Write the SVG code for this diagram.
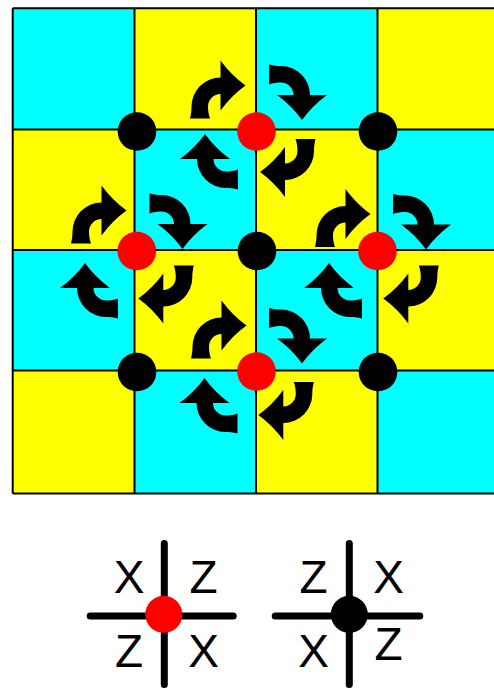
<svg xmlns="http://www.w3.org/2000/svg" xmlns:xlink="http://www.w3.org/1999/xlink" width="494" height="692" viewBox="0 0 494 692">
  <style>
    .c { fill: #00FFFF; }
    .y { fill: #FFFF00; }
    .gl { stroke: #000; stroke-width: 2; fill: none; }
    .red { fill: #FF0000; }
    .blk { fill: #000; }
    .leg { stroke: #000; stroke-width: 7; stroke-linecap: round; fill: none; }
    .lbl { font-family: "Liberation Sans", Arial, sans-serif; font-size: 46px; fill: #000; text-anchor: middle; }
  </style>
  <defs>
    <path id="arr" d="M -30.5,12 C -29.3,7 -29,4 -29,0 A 29 29 0 0 1 0,-29 L 0,-46 Q 11,-31 25,-21 Q 11,-11 0,4 L 0,-12.5 A 12.5 12.5 0 0 0 -12.5,0 C -12.5,4 -12,8 -10.5,12 Z" fill="#000"/>
  </defs>

  <g id="board">
    <rect class="c" x="12.7" y="8.3" width="121.8" height="121.2"/>
    <rect class="y" x="134.5" y="8.3" width="121.5" height="121.2"/>
    <rect class="c" x="256" y="8.3" width="121.5" height="121.2"/>
    <rect class="y" x="377.5" y="8.3" width="116.5" height="121.2"/>

    <rect class="y" x="12.7" y="129.5" width="121.8" height="120.5"/>
    <rect class="c" x="134.5" y="129.5" width="121.5" height="120.5"/>
    <rect class="y" x="256" y="129.5" width="121.5" height="120.5"/>
    <rect class="c" x="377.5" y="129.5" width="116.5" height="120.5"/>

    <rect class="c" x="12.7" y="250" width="121.8" height="120.5"/>
    <rect class="y" x="134.5" y="250" width="121.5" height="120.5"/>
    <rect class="c" x="256" y="250" width="121.5" height="120.5"/>
    <rect class="y" x="377.5" y="250" width="116.5" height="120.5"/>

    <rect class="y" x="12.7" y="370.5" width="121.8" height="123"/>
    <rect class="c" x="134.5" y="370.5" width="121.5" height="123"/>
    <rect class="y" x="256" y="370.5" width="121.5" height="123"/>
    <rect class="c" x="377.5" y="370.5" width="116.5" height="123"/>

    <path class="gl" d="M12.7,8.3 V493.5 M134.5,8.3 V493.5 M256,8.3 V493.5 M377.5,8.3 V493.5 M12.7,8.3 H494 M12.7,129.5 H494 M12.7,250 H494 M12.7,370.5 H494 M12.7,493.5 H494"/>
  </g>

  <g id="arrows">
    <use xlink:href="#arr" transform="translate(220.5,106.5) rotate(0)"/>
    <use xlink:href="#arr" transform="translate(281,95) rotate(90)"/>
    <use xlink:href="#arr" transform="translate(285,151) rotate(180)"/>
    <use xlink:href="#arr" transform="translate(226,159) rotate(270)"/>

    <use xlink:href="#arr" transform="translate(101.5,231.5) rotate(0)"/>
    <use xlink:href="#arr" transform="translate(161.5,224) rotate(90)"/>
    <use xlink:href="#arr" transform="translate(163.3,277.5) rotate(180)"/>
    <use xlink:href="#arr" transform="translate(106,288) rotate(270)"/>

    <use xlink:href="#arr" transform="translate(345.5,235) rotate(0)"/>
    <use xlink:href="#arr" transform="translate(405,224.5) rotate(90)"/>
    <use xlink:href="#arr" transform="translate(408.3,277.5) rotate(180)"/>
    <use xlink:href="#arr" transform="translate(350,288) rotate(270)"/>

    <use xlink:href="#arr" transform="translate(221.5,346.5) rotate(0)"/>
    <use xlink:href="#arr" transform="translate(281,338.5) rotate(90)"/>
    <use xlink:href="#arr" transform="translate(283.3,394) rotate(180)"/>
    <use xlink:href="#arr" transform="translate(225.5,403) rotate(270)"/>
  </g>

  <g id="vertices">
    <circle class="blk" cx="137" cy="131.5" r="19.3"/>
    <circle class="red" cx="256.5" cy="131.5" r="19.3"/>
    <circle class="blk" cx="378" cy="131.5" r="19.3"/>
    <circle class="red" cx="136.8" cy="251" r="19.3"/>
    <circle class="blk" cx="257" cy="251" r="19.3"/>
    <circle class="red" cx="377.5" cy="251" r="19.3"/>
    <circle class="blk" cx="137" cy="372" r="19.3"/>
    <circle class="red" cx="256.5" cy="371.5" r="19.3"/>
    <circle class="blk" cx="378" cy="372" r="19.3"/>
  </g>

  <g id="legend-red">
    <path class="leg" d="M164.3,543.5 V684.5 M90.2,616 H233.2"/>
    <circle class="red" cx="163.8" cy="614.3" r="18.5"/>
    <text class="lbl" x="129" y="593">X</text>
    <text class="lbl" x="203.5" y="593">Z</text>
    <text class="lbl" x="129" y="667">Z</text>
    <text class="lbl" x="203.5" y="667">X</text>
  </g>

  <g id="legend-black">
    <path class="leg" d="M349.3,543.5 V684.5 M275.2,616 H419.8"/>
    <circle class="blk" cx="349.3" cy="614.3" r="18.5"/>
    <text class="lbl" x="313.5" y="593">Z</text>
    <text class="lbl" x="388.5" y="593">X</text>
    <text class="lbl" x="313.5" y="667">X</text>
    <text class="lbl" x="388.5" y="660">Z</text>
  </g>
</svg>
